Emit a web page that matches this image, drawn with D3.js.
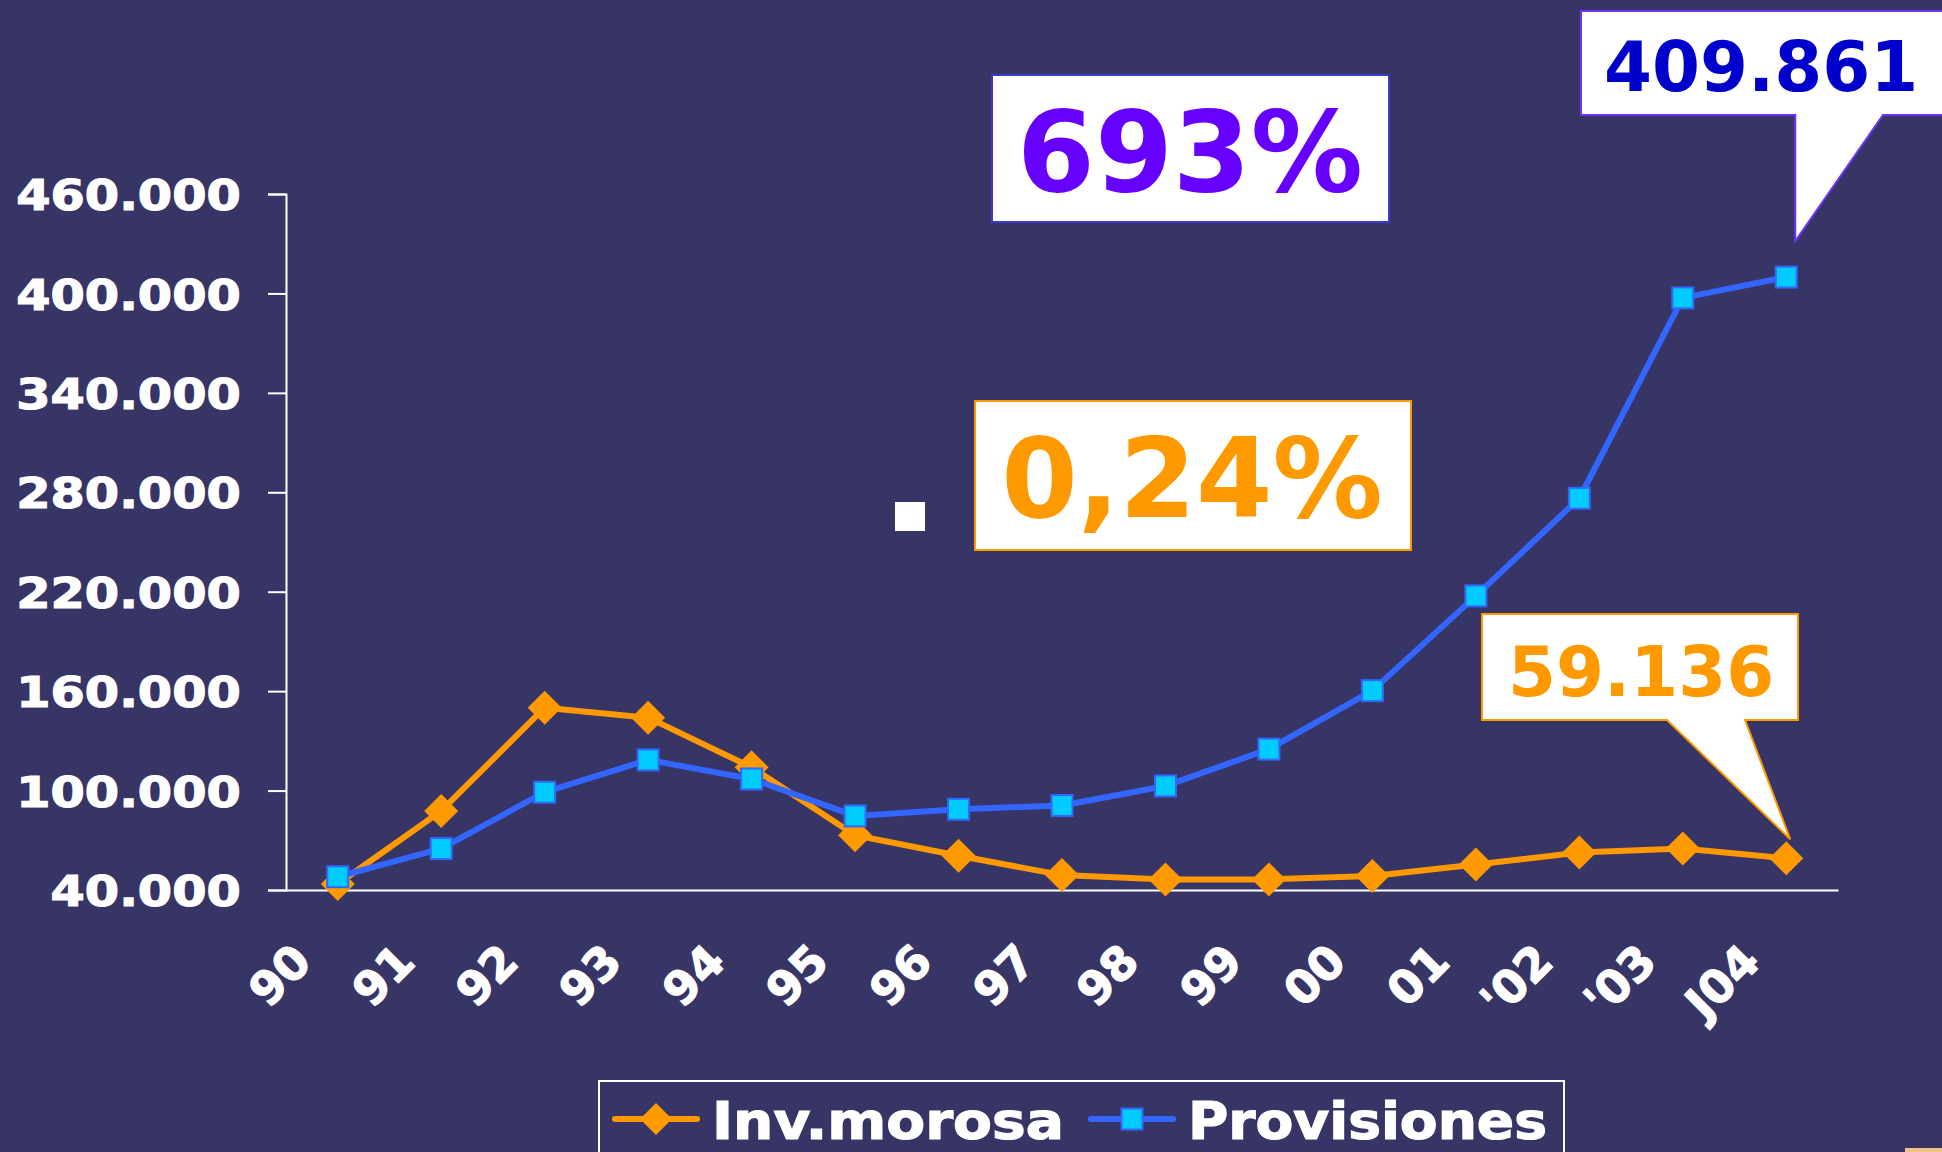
<!DOCTYPE html>
<html>
<head>
<meta charset="utf-8">
<script src="https://cdn.jsdelivr.net/npm/d3@7"></script>
<style>
  html, body { margin: 0; padding: 0; background: #373466; }
  svg { display: block; }
  text { font-family: "DejaVu Sans", Verdana, sans-serif; font-weight: bold; }
</style>
</head>
<body>
<svg id="chart" width="1942" height="1152"></svg>
<script>
// Years on the category axis
const years = ["90", "91", "92", "93", "94", "95", "96", "97", "98", "99", "00", "01", "'02", "'03", "J04"];

// Non-performing loans (Inv.morosa)
const invMorosa = [43600, 87700, 150000, 144000, 114000, 73000, 60700, 49000, 46400, 46400, 48400, 55400, 62600, 65000, 59136];

// Loan-loss provisions
const provisiones = [48000, 65000, 99000, 118500, 107000, 84700, 88700, 91000, 102800, 125000, 160300, 217500, 276400, 397300, 409861];

const seriesNames = ["Inv.morosa", "Provisiones"];
const yTicks = [40000, 100000, 160000, 220000, 280000, 340000, 400000, 460000];

// Callout and highlight texts
const growthText = "693%";
const ratioText = "0,24%";

const colors = {
  bg: "#373466",
  orange: "#FF9900",
  blue: "#3366FF",
  cyan: "#00CCFF",
  violet: "#6600FF",
  navy: "#0000CC"
};

const esLocale = d3.formatLocale({ decimal: ",", thousands: ".", grouping: [3], currency: ["", " €"] });
const fmt = esLocale.format(",d");

const svg = d3.select("#chart");
svg.append("rect").attr("width", 1942).attr("height", 1152).attr("fill", colors.bg);

const x = d3.scaleBand().domain(years).range([286, 1838]);
const cx = d => x(d) + x.bandwidth() / 2;
const y = d3.scaleLinear().domain([40000, 460000]).range([890, 194]);

// Heavier white lettering for axis and legend texts
const heavy = sel => sel
  .attr("fill", "#ffffff")
  .attr("stroke", "#ffffff")
  .attr("stroke-width", 1.2)
  .attr("font-family", "DejaVu Sans, Verdana, sans-serif")
  .attr("font-weight", "bold");

// Y axis
const yAxis = svg.append("g")
  .attr("transform", "translate(286,0)")
  .call(d3.axisLeft(y).tickValues(yTicks).tickFormat(fmt).tickSize(18).tickSizeOuter(18));
yAxis.selectAll("path, line").attr("stroke", "#ffffff").attr("stroke-width", 2);
yAxis.selectAll("text")
  .attr("x", 0)
  .attr("dy", "0.365em")
  .attr("transform", "translate(-45.3,0) scale(1.146,1)")
  .attr("font-size", 43)
  .call(heavy);

// X axis
const xAxis = svg.append("g")
  .attr("transform", "translate(0,890)")
  .call(d3.axisBottom(x).tickSize(0).tickSizeOuter(0));
xAxis.select(".domain").attr("stroke", "#ffffff").attr("stroke-width", 2);
xAxis.selectAll("text")
  .attr("y", 0)
  .attr("dy", 0)
  .attr("text-anchor", "end")
  .attr("transform", "translate(-24,74) rotate(-45)")
  .attr("font-size", 46)
  .call(heavy);

const line = d3.line().x((d, i) => cx(years[i])).y(d => y(d));
const diamond = r => `M0,${-r}L${r},0L0,${r}L${-r},0Z`;

// Inv.morosa series
svg.append("path").datum(invMorosa)
  .attr("d", line).attr("fill", "none")
  .attr("stroke", colors.orange).attr("stroke-width", 6).attr("stroke-linejoin", "round");
svg.append("g").selectAll("path").data(invMorosa).join("path")
  .attr("d", diamond(17))
  .attr("transform", (d, i) => `translate(${cx(years[i])},${y(d)})`)
  .attr("fill", colors.orange);

// Provisiones series
svg.append("path").datum(provisiones)
  .attr("d", line).attr("fill", "none")
  .attr("stroke", colors.blue).attr("stroke-width", 6).attr("stroke-linejoin", "round");
svg.append("g").selectAll("rect").data(provisiones).join("rect")
  .attr("x", (d, i) => cx(years[i]) - 10.5)
  .attr("y", d => y(d) - 10.5)
  .attr("width", 21).attr("height", 21)
  .attr("fill", colors.cyan)
  .attr("stroke", colors.blue).attr("stroke-width", 2);

// Highlight boxes
svg.append("rect").attr("x", 992).attr("y", 75).attr("width", 397).attr("height", 147)
  .attr("fill", "#ffffff").attr("stroke", "#3a3acc").attr("stroke-width", 2);
svg.append("text").attr("x", 1190).attr("y", 191).attr("text-anchor", "middle")
  .attr("font-size", 112).attr("fill", colors.violet).text(growthText);

svg.append("rect").attr("x", 895).attr("y", 502).attr("width", 30).attr("height", 29).attr("fill", "#ffffff");

svg.append("rect").attr("x", 975).attr("y", 401).attr("width", 436).attr("height", 149)
  .attr("fill", "#ffffff").attr("stroke", colors.orange).attr("stroke-width", 2);
svg.append("text").attr("x", 1192).attr("y", 517).attr("text-anchor", "middle")
  .attr("font-size", 110).attr("fill", colors.orange).text(ratioText);

// Callout for the last Provisiones value
const lastI = years.length - 1;
const pTip = [cx(years[lastI]) + 9, y(provisiones[lastI]) - 36];
svg.append("path")
  .attr("d", `M1581,11H1950V115H1883L${pTip[0]},${pTip[1]}L${pTip[0]},115H1581Z`)
  .attr("fill", "#ffffff").attr("stroke", "#7033ff").attr("stroke-width", 2);
svg.append("text").attr("x", 1604).attr("y", 91)
  .attr("font-size", 69).attr("fill", colors.navy).text(fmt(provisiones[lastI]));

// Callout for the last Inv.morosa value
const mTip = [cx(years[lastI]) + 4, y(invMorosa[lastI]) - 19];
svg.append("path")
  .attr("d", `M1482,614H1798V720H1745L${mTip[0]},${mTip[1]}L1667,720H1482Z`)
  .attr("fill", "#ffffff").attr("stroke", colors.orange).attr("stroke-width", 2);
svg.append("text").attr("x", 1508).attr("y", 696)
  .attr("font-size", 69).attr("fill", colors.orange).text(fmt(invMorosa[lastI]));

// Legend
const legend = svg.append("g");
legend.append("rect").attr("x", 599).attr("y", 1081).attr("width", 965).attr("height", 100)
  .attr("fill", "none").attr("stroke", "#ffffff").attr("stroke-width", 2);
const legendItems = [
  { name: seriesNames[0], x0: 615, len: 352, color: colors.orange, marker: "diamond" },
  { name: seriesNames[1], x0: 1091, len: 359, color: colors.blue, marker: "square" }
];
legendItems.forEach(it => {
  const g = legend.append("g");
  g.append("line").attr("x1", it.x0).attr("x2", it.x0 + 82).attr("y1", 1119).attr("y2", 1119)
    .attr("stroke", it.color).attr("stroke-width", 6).attr("stroke-linecap", "round");
  if (it.marker === "diamond") {
    g.append("path").attr("d", diamond(16)).attr("transform", `translate(${it.x0 + 41},1119)`).attr("fill", it.color);
  } else {
    g.append("rect").attr("x", it.x0 + 41 - 10.5).attr("y", 1119 - 10.5).attr("width", 21).attr("height", 21)
      .attr("fill", colors.cyan).attr("stroke", colors.blue).attr("stroke-width", 2);
  }
  g.append("text").attr("x", it.x0 + 97).attr("y", 1139).attr("font-size", 51)
    .attr("textLength", it.len).attr("lengthAdjust", "spacingAndGlyphs")
    .call(heavy).text(it.name);
});

// Partially visible object at the bottom-right edge
svg.append("rect").attr("x", 1905).attr("y", 1148).attr("width", 37).attr("height", 4).attr("fill", "#efc38a");
</script>
</body>
</html>
